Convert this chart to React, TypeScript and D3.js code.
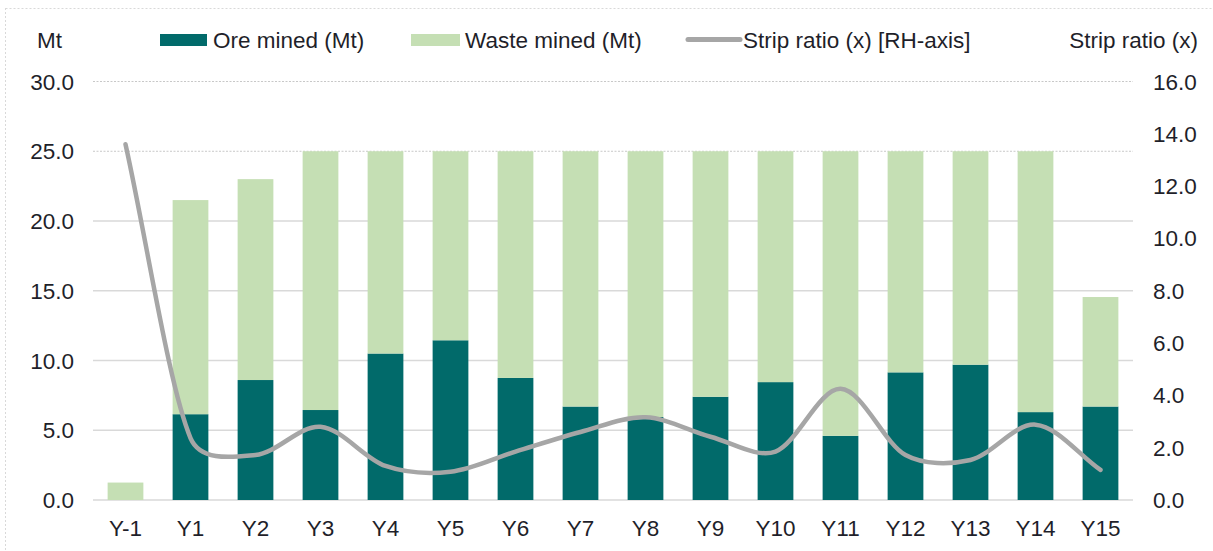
import React from "react";
import * as d3 from "d3";

const categories = ["Y-1","Y1","Y2","Y3","Y4","Y5","Y6","Y7","Y8","Y9","Y10","Y11","Y12","Y13","Y14","Y15"];
const oreMined = [0, 6.15, 8.6, 6.45, 10.5, 11.45, 8.75, 6.7, 5.95, 7.4, 8.45, 4.6, 9.15, 9.7, 6.3, 6.7];
const totalMined = [1.25, 21.5, 23.0, 25, 25, 25, 25, 25, 25, 25, 25, 25, 25, 25, 25, 14.55];
const stripRatio = [13.6, 2.37, 1.72, 2.8, 1.3, 1.08, 1.85, 2.6, 3.16, 2.42, 1.85, 4.25, 1.72, 1.53, 2.88, 1.15];
const leftTicks = [0, 5, 10, 15, 20, 25, 30];
const rightTicks = [0, 2, 4, 6, 8, 10, 12, 14, 16];

const W = 1213, H = 551;
const ORE = "#016a6a";
const WASTE = "#c5dfb4";
const LINE = "#a6a6a6";
const TXT = "#1f1f2a";
const FONT = "'Liberation Sans', Arial, sans-serif";
const FS = 22.5;

// Excel-like smoothed line: Catmull-Rom tangents, arms shortened on the shorter side
function smoothPath(pts: [number, number][]): string {
  const p = d3.path();
  const n = pts.length;
  const dist = (a: [number, number], b: [number, number]) => Math.hypot(b[0] - a[0], b[1] - a[1]);
  const cpIn: [number, number][] = [];
  const cpOut: [number, number][] = [];
  for (let i = 0; i < n; i++) {
    if (i === 0) {
      const t = [(pts[1][0] - pts[0][0]) / 3, (pts[1][1] - pts[0][1]) / 3];
      cpOut[i] = [pts[0][0] + t[0], pts[0][1] + t[1]];
      cpIn[i] = pts[0];
    } else if (i === n - 1) {
      const t = [(pts[i][0] - pts[i - 1][0]) / 3, (pts[i][1] - pts[i - 1][1]) / 3];
      cpIn[i] = [pts[i][0] - t[0], pts[i][1] - t[1]];
      cpOut[i] = pts[i];
    } else {
      const T = [(pts[i + 1][0] - pts[i - 1][0]) / 6, (pts[i + 1][1] - pts[i - 1][1]) / 6];
      const dIn = dist(pts[i - 1], pts[i]);
      const dOut = dist(pts[i], pts[i + 1]);
      const sIn = Math.min(1, Math.sqrt(dIn / dOut));
      const sOut = Math.min(1, Math.sqrt(dOut / dIn));
      cpIn[i] = [pts[i][0] - T[0] * sIn, pts[i][1] - T[1] * sIn];
      cpOut[i] = [pts[i][0] + T[0] * sOut, pts[i][1] + T[1] * sOut];
    }
  }
  p.moveTo(pts[0][0], pts[0][1]);
  for (let i = 0; i < n - 1; i++) {
    p.bezierCurveTo(cpOut[i][0], cpOut[i][1], cpIn[i + 1][0], cpIn[i + 1][1], pts[i + 1][0], pts[i + 1][1]);
  }
  return p.toString();
}

export default function App() {
  const x = d3.scaleBand<string>().domain(categories).range([93, 1133]).paddingInner(0.45).paddingOuter(0.225);
  const yL = d3.scaleLinear().domain([0, 30]).range([500, 81.5]);
  const yR = d3.scaleLinear().domain([0, 16]).range([500, 81.5]);
  const pts: [number, number][] = stripRatio.map((v, i) => [
    (x(categories[i]) as number) + x.bandwidth() / 2,
    yR(v),
  ]);

  return (
    <div style={{ position: "absolute", left: 0, top: 0 }}>
      <svg width={W} height={H} style={{ display: "block", fontFamily: FONT }}>
        <rect x={0} y={0} width={W} height={H} fill="#fff" />
        <line x1={5.5} x2={5.5} y1={8} y2={H} stroke="#d9d9d9" strokeDasharray="2,2" />
        <line x1={5.5} x2={W} y1={8.5} y2={8.5} stroke="#d9d9d9" strokeDasharray="2,2" />
        {leftTicks.map((t) => (
          <line key={"g" + t} x1={93} x2={1133} y1={yL(t)} y2={yL(t)}
            stroke={t >= 25 ? "#c8c8c8" : "#d9d9d9"} strokeWidth={t >= 25 ? 1 : 1.5}
            strokeDasharray={t >= 25 ? "2,1.5" : undefined} />
        ))}
        {categories.map((c, i) => (
          <g key={c}>
            {oreMined[i] > 0 && (
              <rect x={x(c)} width={x.bandwidth()} y={yL(oreMined[i])} height={yL(0) - yL(oreMined[i])} fill={ORE} />
            )}
            <rect x={x(c)} width={x.bandwidth()} y={yL(totalMined[i])} height={yL(oreMined[i]) - yL(totalMined[i])} fill={WASTE} />
          </g>
        ))}
        <path d={smoothPath(pts)} fill="none" stroke={LINE} strokeWidth={4.5} strokeLinecap="round" />
        {leftTicks.map((t) => (
          <text key={"l" + t} x={74} y={yL(t) + 8} textAnchor="end" fontSize={FS} fill={TXT}>{t.toFixed(1)}</text>
        ))}
        {rightTicks.map((t) => (
          <text key={"r" + t} x={1153} y={yR(t) + 8} textAnchor="start" fontSize={FS} fill={TXT}>{t.toFixed(1)}</text>
        ))}
        {categories.map((c) => (
          <text key={"x" + c} x={(x(c) as number) + x.bandwidth() / 2} y={536} textAnchor="middle" fontSize={FS} fill={TXT}>{c}</text>
        ))}
        <text x={37} y={48} fontSize={FS} fill={TXT}>Mt</text>
        <text x={1198} y={48} fontSize={FS} fill={TXT} textAnchor="end">Strip ratio (x)</text>
        <rect x={160} y={34} width={47} height={12} fill={ORE} />
        <text x={213} y={48} fontSize={FS} fill={TXT}>Ore mined (Mt)</text>
        <rect x={411} y={34} width={49} height={12} fill={WASTE} />
        <text x={465} y={48} fontSize={FS} fill={TXT}>Waste mined (Mt)</text>
        <line x1={688} x2={740} y1={39.5} y2={39.5} stroke={LINE} strokeWidth={5} strokeLinecap="round" />
        <text x={743} y={48} fontSize={FS} fill={TXT}>Strip ratio (x) [RH-axis]</text>
      </svg>
    </div>
  );
}
